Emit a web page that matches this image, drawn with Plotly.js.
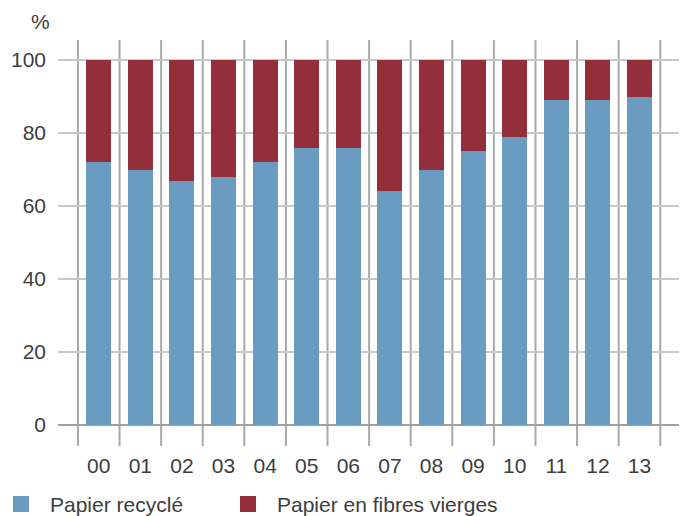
<!DOCTYPE html>
<html><head><meta charset="utf-8">
<script src="https://cdn.plot.ly/plotly-3.0.1.min.js"></script>
<style>html,body{margin:0;padding:0;background:#fff}#chart{width:686px;height:516px}</style>
</head><body><div id="chart"></div>
<script>
const years = ['00','01','02','03','04','05','06','07','08','09','10','11','12','13'];
const recycled = [72,70,67,68,72,76,76,64,70,75,79,89,89,90];
const virgin = [28,30,33,32,28,24,24,36,30,25,21,11,11,10];
const seriesNames = ['Papier recyclé','Papier en fibres vierges'];
const seriesColors = ['#6a9bc0','#932e3b'];
const yTicks = [0,20,40,60,80,100];

const font = {family:'Liberation Sans, Arial, sans-serif', size:21, color:'#3d3d3d'};
const L = 58, T = 40, W = 621, H = 406;
const px = v => (v - L) / W;
const py = v => (T + H - v) / H;

const shapes = [];
for (let k = 0; k <= years.length; k++) {
  shapes.push({type:'line', xref:'x', yref:'paper', x0:k-0.5, x1:k-0.5, y0:0, y1:1,
    line:{color:'#a9a9a9', width:2}, layer:'below'});
}
const annotations = [{xref:'paper', yref:'paper', x:px(52), y:py(21.5), xanchor:'right', yanchor:'middle',
  text:'%', showarrow:false, font:font}];
const legendX = [13, 240];
seriesNames.forEach((nm, i) => {
  shapes.push({type:'rect', xref:'paper', yref:'paper', x0:px(legendX[i]), x1:px(legendX[i]+16),
    y0:py(512), y1:py(496), fillcolor:seriesColors[i], line:{width:0}});
  annotations.push({xref:'paper', yref:'paper', x:px(legendX[i]+35), y:py(504), xanchor:'left', yanchor:'middle',
    text:nm, showarrow:false, font:font});
});

const data = [
  {type:'bar', x:years, y:recycled, name:seriesNames[0], marker:{color:seriesColors[0]}, hoverinfo:'none'},
  {type:'bar', x:years, y:virgin, name:seriesNames[1], marker:{color:seriesColors[1]}, hoverinfo:'none'}
];
const layout = {
  width:686, height:516,
  margin:{l:L, r:686-L-W, t:T, b:516-T-H},
  barmode:'stack', bargap:0.4,
  font:font,
  paper_bgcolor:'#fff', plot_bgcolor:'#fff',
  showlegend:false,
  xaxis:{type:'category', range:[-0.98,13.95], showgrid:false, zeroline:false, showline:false,
    ticks:'', ticklabelstandoff:5, tickfont:font, fixedrange:true, automargin:false},
  yaxis:{range:[-5.75,105.5], tickvals:yTicks, showgrid:true, gridcolor:'#c8c8c8', gridwidth:2,
    zeroline:true, zerolinecolor:'#a0a0a0', zerolinewidth:1.5, showline:false, ticks:'',
    ticklabelstandoff:11, tickfont:font, fixedrange:true, automargin:false},
  shapes:shapes,
  annotations:annotations
};
Plotly.newPlot('chart', data, layout, {staticPlot:true});
</script></body></html>
